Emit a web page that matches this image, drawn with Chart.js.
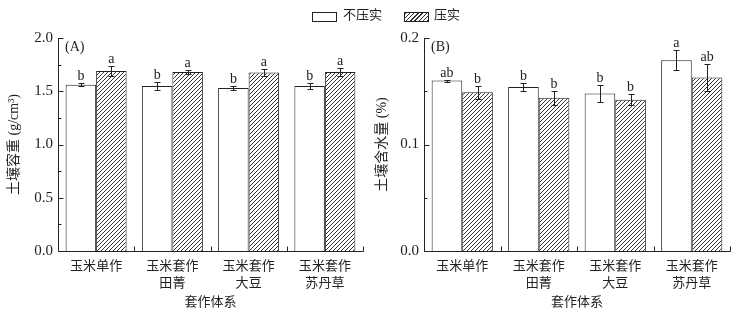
<!DOCTYPE html>
<html>
<head>
<meta charset="utf-8">
<script src="https://cdn.jsdelivr.net/npm/chart.js@4.4.1/dist/chart.umd.min.js"></script>
<style>
  body { margin: 0; background: #fff; }
  #wrap { position: relative; width: 743px; height: 314px; background: #fff; overflow: hidden;
          font-family: 'Liberation Serif', 'Noto Sans CJK SC', serif; color: #222; }
  #left { position: absolute; left: 0; top: 0; }
  #right { position: absolute; left: 370px; top: 0; }
  .lg-box { position: absolute; top: 12px; width: 23px; height: 8px; border: 1px solid #222; }
  .lg-text { position: absolute; top: 6px; font-size: 13px; line-height: 18px; }
</style>
</head>
<body>
<div id="wrap">
  <canvas id="left" width="370" height="314"></canvas>
  <canvas id="right" width="373" height="314"></canvas>
  <div class="lg-box" style="left:312px; background:#fff;"></div>
  <div class="lg-text" style="left:343px;">不压实</div>
  <div class="lg-box" style="left:404px; background:repeating-linear-gradient(135deg, #333 0 1px, #fff 1px 3px);"></div>
  <div class="lg-text" style="left:434px;">压实</div>
</div>
<script>
const categories = [['玉米单作'], ['玉米套作', '田菁'], ['玉米套作', '大豆'], ['玉米套作', '苏丹草']];

// (A) soil bulk density, g/cm3
const bulkLoose = [1.56, 1.55, 1.53, 1.55];
const bulkLooseErr = [0.015, 0.035, 0.015, 0.028];
const bulkLooseLetters = ['b', 'b', 'b', 'b'];
const bulkPacked = [1.69, 1.68, 1.675, 1.68];
const bulkPackedErr = [0.043, 0.015, 0.03, 0.04];
const bulkPackedLetters = ['a', 'a', 'a', 'a'];

// (B) soil water content, %
const waterLoose = [0.160, 0.154, 0.148, 0.179];
const waterLooseErr = [0.001, 0.0035, 0.008, 0.0094];
const waterLooseLetters = ['ab', 'b', 'b', 'a'];
const waterPacked = [0.149, 0.144, 0.142, 0.163];
const waterPackedErr = [0.006, 0.0066, 0.005, 0.0127];
const waterPackedLetters = ['b', 'b', 'b', 'ab'];

const FONT = "'Liberation Serif', 'Noto Sans CJK SC', serif";
const INK = '#222';

function hatch() {
  const s = 4;
  const c = document.createElement('canvas');
  c.width = s; c.height = s;
  const g = c.getContext('2d');
  g.fillStyle = '#fff';
  g.fillRect(0, 0, s, s);
  g.strokeStyle = '#333';
  g.lineWidth = 1;
  g.beginPath();
  g.moveTo(-1, s + 1); g.lineTo(s + 1, -1);
  g.moveTo(-1, 1); g.lineTo(1, -1);
  g.moveTo(s - 1, s + 1); g.lineTo(s + 1, s - 1);
  g.stroke();
  return g.createPattern(c, 'repeat');
}

// inward ticks, axis lines, error bars, letters and panel tag
const decor = {
  id: 'decor',
  afterDatasetsDraw(chart, args, opts) {
    const ctx = chart.ctx;
    const x = chart.scales.x, y = chart.scales.y;
    const area = chart.chartArea;
    ctx.save();
    ctx.strokeStyle = INK;
    ctx.fillStyle = INK;
    ctx.lineWidth = 1;

    // error bars + letters
    ctx.font = '14px ' + FONT;
    ctx.textAlign = 'center';
    ctx.textBaseline = 'alphabetic';
    chart.data.datasets.forEach((ds, di) => {
      const meta = chart.getDatasetMeta(di);
      meta.data.forEach((bar, i) => {
        const v = ds.data[i], e = ds.err[i];
        const yt = Math.round(y.getPixelForValue(v + e)) + 0.5;
        const yb = Math.round(y.getPixelForValue(v - e)) + 0.5;
        const bx = Math.round(bar.x) + 0.5;
        ctx.beginPath();
        ctx.moveTo(bx, yt); ctx.lineTo(bx, yb);
        ctx.moveTo(bx - 3, yt); ctx.lineTo(bx + 3, yt);
        ctx.moveTo(bx - 3, yb); ctx.lineTo(bx + 3, yb);
        ctx.stroke();
        ctx.fillText(ds.letters[i], bar.x, yt - 4);
      });
    });

    // axis lines
    const L = Math.round(area.left) + 0.5, B = Math.round(area.bottom) + 0.5;
    ctx.beginPath();
    ctx.moveTo(L, Math.round(area.top)); ctx.lineTo(L, B);
    ctx.lineTo(Math.round(area.right) + 0.5, B);
    ctx.stroke();

    // y ticks, pointing into the plot
    ctx.beginPath();
    y.ticks.forEach(t => {
      const py = Math.round(y.getPixelForValue(t.value)) + 0.5;
      const len = t.label ? 5 : 3;
      ctx.moveTo(L, py); ctx.lineTo(L + len, py);
    });
    // x ticks at category boundaries
    const half = (x.getPixelForValue(1) - x.getPixelForValue(0)) / 2;
    for (let i = 0; i < chart.data.labels.length; i++) {
      const px = Math.round(x.getPixelForValue(i) + half) + 0.5;
      ctx.moveTo(px, B); ctx.lineTo(px, B - 5);
    }
    ctx.stroke();

    // panel tag
    ctx.textAlign = 'left';
    ctx.textBaseline = 'middle';
    ctx.font = '14px ' + FONT;
    ctx.fillText(opts.tag, area.left + 7, area.top + 9);
    ctx.restore();
  }
};

function makeChart(id, cfg) {
  const ctx = document.getElementById(id).getContext('2d');
  const pat = hatch();
  return new Chart(ctx, {
    type: 'bar',
    data: {
      labels: categories,
      datasets: [{
        label: '不压实',
        data: cfg.loose,
        err: cfg.looseErr,
        letters: cfg.looseLetters,
        backgroundColor: '#fff',
        borderColor: INK,
        borderWidth: 1
      }, {
        label: '压实',
        data: cfg.packed,
        err: cfg.packedErr,
        letters: cfg.packedLetters,
        backgroundColor: pat,
        borderColor: INK,
        borderWidth: 1
      }]
    },
    options: {
      responsive: false,
      animation: false,
      layout: { padding: { top: 38, right: cfg.padRight, left: 0, bottom: 0 } },
      datasets: { bar: { categoryPercentage: 0.8, barPercentage: 1.0 } },
      scales: {
        x: {
          grid: { display: false, drawTicks: false },
          border: { display: false },
          ticks: {
            color: INK, autoSkip: false, maxRotation: 0, padding: 7,
            font: { family: FONT, size: 13, lineHeight: 1.3 }
          },
          title: {
            display: true, text: '套作体系', color: INK,
            font: { family: FONT, size: 13 }, padding: { top: 0, bottom: 4 }
          },
          afterFit(s) { s.height = 63; }
        },
        y: {
          min: 0, max: cfg.max,
          grid: { display: false, drawTicks: false },
          border: { display: false },
          ticks: {
            stepSize: cfg.minor, color: INK, padding: 5,
            font: { family: FONT, size: 15 },
            callback: v => {
              const k = Math.round(v / cfg.minor);
              return k % 2 === 0 ? v.toFixed(1) : '';
            }
          },
          title: {
            display: true, text: cfg.yTitle, color: INK,
            font: { family: FONT, size: 14 }, padding: { top: cfg.titlePad, bottom: 0 }
          },
          afterFit(s) { s.width = cfg.yWidth; }
        }
      },
      plugins: {
        legend: { display: false },
        tooltip: { enabled: false },
        decor: { tag: cfg.tag }
      }
    },
    plugins: [decor]
  });
}

makeChart('left', {
  loose: bulkLoose, looseErr: bulkLooseErr, looseLetters: bulkLooseLetters,
  packed: bulkPacked, packedErr: bulkPackedErr, packedLetters: bulkPackedLetters,
  max: 2.0, minor: 0.25, yTitle: '土壤容重 (g/cm³)', tag: '(A)',
  yWidth: 58, padRight: 7, titlePad: 6
});

makeChart('right', {
  loose: waterLoose, looseErr: waterLooseErr, looseLetters: waterLooseLetters,
  packed: waterPacked, packedErr: waterPackedErr, packedLetters: waterPackedLetters,
  max: 0.2, minor: 0.05, yTitle: '土壤含水量 (%)', tag: '(B)',
  yWidth: 54, padRight: 13, titlePad: 4
});
</script>
</body>
</html>
